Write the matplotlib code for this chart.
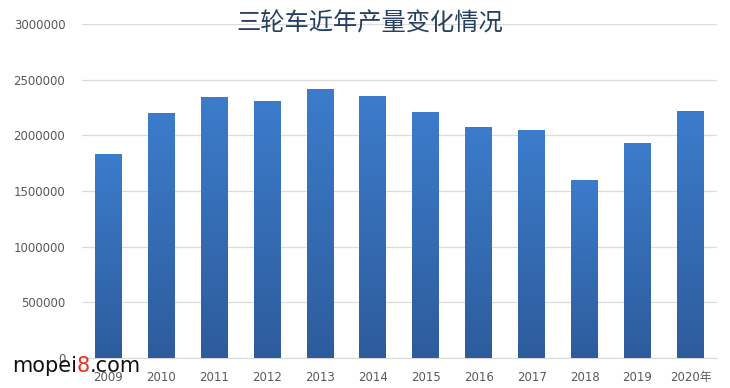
import numpy as np
import matplotlib
matplotlib.use('Agg')
import matplotlib.pyplot as plt

plt.rcParams['font.family'] = ['DejaVu Sans', 'Noto Sans CJK SC']

# data
years = ['2009', '2010', '2011', '2012', '2013', '2014', '2015', '2016',
         '2017', '2018', '2019', '2020年']
output = [1830000, 2198000, 2344000, 2311000, 2416000, 2353000, 2207000,
          2078000, 2045000, 1602000, 1934000, 2216000]
yticks = [0, 500000, 1000000, 1500000, 2000000, 2500000, 3000000]

fig = plt.figure(figsize=(7.3, 3.88), dpi=100)
ax = fig.add_axes([0.1123, 0.0773, 0.8697, 0.8607])

x = np.arange(len(years))
bars = ax.bar(x, output, width=0.51, color='#3570BA', zorder=2)

# vertical gradient on each bar: lighter at top, darker at bottom
grad = np.linspace(0, 1, 256).reshape(-1, 1)
cmap = matplotlib.colors.LinearSegmentedColormap.from_list('g', ['#2D5C9C', '#3C7CCB'])
for b in bars:
    x0, y0 = b.get_x(), b.get_y()
    w, h = b.get_width(), b.get_height()
    im = ax.imshow(grad, extent=[x0, x0 + w, y0, y0 + h], origin='lower',
                   cmap=cmap, aspect='auto', zorder=3)
    im.set_clip_path(b)

ax.set_xlim(-0.5, len(years) - 0.5)
ax.set_ylim(0, 3000000)
ax.set_yticks(yticks)
ax.set_yticklabels([str(v) for v in yticks])
ax.set_xticks(x)
ax.set_xticklabels(years)
ax.tick_params(axis='both', length=0, labelsize=8.5, labelcolor='#595959')
ax.tick_params(axis='y', pad=12)
ax.tick_params(axis='x', pad=9)
ax.yaxis.grid(True, color='#DCDCDC', linewidth=0.9, zorder=0)
ax.set_axisbelow(True)
for s in ['top', 'right', 'left']:
    ax.spines[s].set_visible(False)
ax.spines['bottom'].set_color('#D9D9D9')

fig.text(0.507, 0.94, '三轮车近年产量变化情况', ha='center', va='center',
         fontsize=17.5, color='#243F60', family=['Noto Sans CJK SC'])

# watermark, pieces placed one after another
renderer = fig.canvas.get_renderer()
xpos = 12
for part, col in [('mopei', '#111111'), ('8', '#E8321E'), ('.com', '#111111')]:
    t = fig.text(xpos / 730, 1 - 366 / 388, part, fontsize=15, color=col,
                 va='center', ha='left', zorder=10)
    bb = t.get_window_extent(renderer)
    xpos += bb.width

fig.savefig('out.png', dpi=100)
